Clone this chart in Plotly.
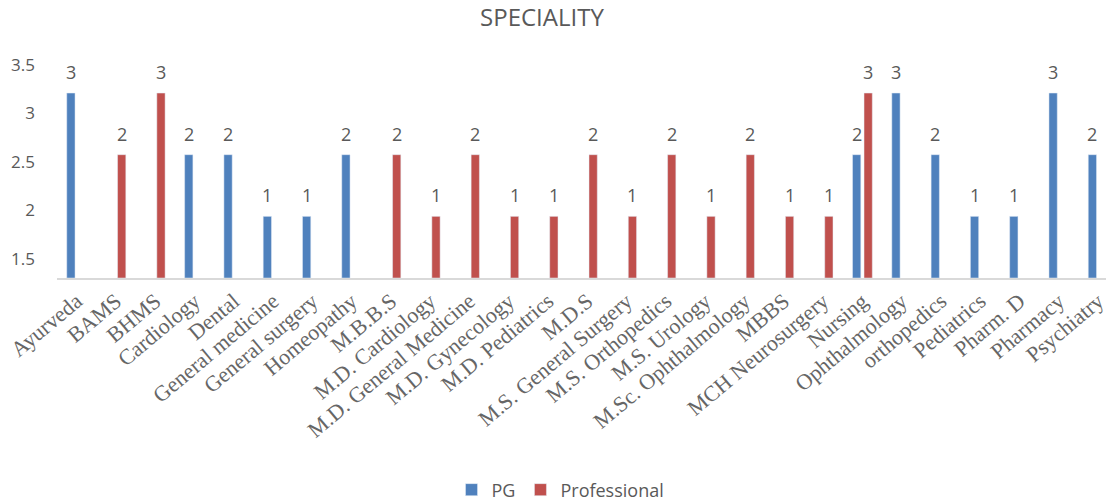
import plotly.graph_objects as go

categories = ["Ayurveda", "BAMS", "BHMS", "Cardiology", "Dental", "General medicine",
              "General surgery", "Homeopathy", "M.B.B.S", "M.D. Cardiology",
              "M.D. General Medicine", "M.D. Gynecology", "M.D. Pediatrics", "M.D.S",
              "M.S. General Surgery", "M.S. Orthopedics", "M.S. Urology",
              "M.Sc. Ophthalmology", "MBBS", "MCH Neurosurgery", "Nursing",
              "Ophthalmology", "orthopedics", "Pediatrics", "Pharm. D", "Pharmacy",
              "Psychiatry"]
pg_values = [3, None, None, 2, 2, 1, 1, 2, None, None, None, None, None, None,
             None, None, None, None, None, None, 2, 3, 2, 1, 1, 3, 2]
prof_values = [None, 2, 3, None, None, None, None, None, 2, 1, 2, 1, 1, 2,
               1, 2, 1, 2, 1, 1, 3, None, None, None, None, None, None]
axis_ticks = [1.5, 2, 2.5, 3, 3.5]

BLUE = "#4F81BD"
RED = "#C0504D"
GREY = "#595959"
SANS = "Open Sans"

fig = go.Figure()
# empty carrier so the printed (left) value axis is drawn
fig.add_trace(go.Scatter(x=[], y=[], showlegend=False, hoverinfo="skip"))
fig.add_trace(go.Bar(x=categories, y=pg_values, name="PG", marker_color=BLUE,
                     yaxis="y2"))
fig.add_trace(go.Bar(x=categories, y=prof_values, name="Professional",
                     marker_color=RED, yaxis="y2"))

annotations = []
for series, shift in ((pg_values, -5.75), (prof_values, 5.75)):
    for cat, v in zip(categories, series):
        if v is None:
            continue
        annotations.append(dict(x=cat, y=v, xref="x", yref="y2", text=str(v),
                                showarrow=False, yanchor="middle", yshift=21,
                                xshift=shift,
                                font=dict(family=SANS, size=18, color=GREY)))

fig.update_layout(
    width=1106, height=504,
    margin=dict(l=57, r=0, t=65, b=226, autoexpand=False),
    paper_bgcolor="white", plot_bgcolor="white",
    barmode="group", bargap=0.415, bargroupgap=0.28,
    title=dict(text="SPECIALITY", x=0.49, xref="container", y=1 - 18 / 504,
               yref="container", yanchor="middle", xanchor="center",
               font=dict(family=SANS, size=24, color=GREY)),
    xaxis=dict(type="category", categoryorder="array", categoryarray=categories,
               range=[-0.5, 26.2], showline=True, linecolor="#D9D9D9",
               linewidth=1.5, showgrid=False, ticks="", tickangle=-40,
               automargin=False,
               tickfont=dict(family="Liberation Serif", size=22, color="#666666")),
    yaxis=dict(range=[1.3, 3.5], tickvals=axis_ticks, showgrid=False,
               zeroline=False, showline=False, ticks="", automargin=False,
               ticklabelstandoff=21,
               tickfont=dict(family=SANS, size=17, color=GREY)),
    yaxis2=dict(range=[0, 3.455], overlaying="y", side="left", visible=False,
                showgrid=False, zeroline=False),
    legend=dict(orientation="h", x=0.480, xanchor="center", y=-0.995,
                yanchor="middle", font=dict(family=SANS, size=18, color=GREY),
                itemwidth=30, tracegroupgap=0),
    annotations=annotations,
    showlegend=True,
)

fig.write_html("out.html")
